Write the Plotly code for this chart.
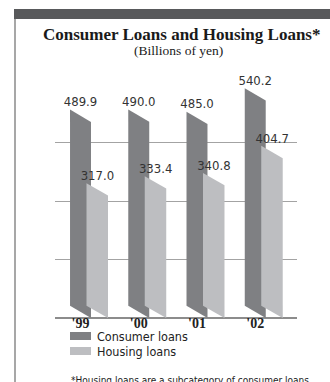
import plotly.graph_objects as go

years = ["'99", "'00", "'01", "'02"]
consumer_loans = [489.9, 490.0, 485.0, 540.2]
housing_loans = [317.0, 333.4, 340.8, 404.7]

DARK = "#7f8083"
LIGHT = "#bdbec1"
SLANT = 29  # vertical drop of the bevelled top/bottom edges, in axis units
NARROW = "DejaVu Sans Condensed, DejaVu Sans, sans-serif"
SERIF = "Liberation Serif, Times New Roman, serif"


def narrow(size, color="#222222"):
    return dict(family=NARROW, size=size, color=color)


fig = go.Figure()


def slab(x0, x1, v, color):
    # parallelogram bar: top-left corner sits at the value
    return go.Scatter(
        x=[x0, x1, x1, x0, x0],
        y=[v, v - SLANT, 0, SLANT, v],
        mode="lines", fill="toself", fillcolor=color,
        line=dict(width=0), hoverinfo="skip", showlegend=False,
    )


for i, (c, h) in enumerate(zip(consumer_loans, housing_loans)):
    fig.add_trace(slab(i - 0.18, i + 0.18, c, DARK))
    fig.add_trace(slab(i + 0.103, i + 0.472, h, LIGHT))

xs = list(range(len(years)))
fig.add_trace(go.Scatter(
    x=xs, y=consumer_loans, mode="text",
    text=[f"{v:.1f}" for v in consumer_loans], textposition="top center",
    textfont=narrow(13, "#333333"),
    cliponaxis=False, hoverinfo="skip", showlegend=False,
))
fig.add_trace(go.Scatter(
    x=[i + 0.29 for i in xs], y=housing_loans, mode="text",
    text=[f"{v:.1f}" for v in housing_loans], textposition="top center",
    textfont=narrow(13, "#333333"),
    cliponaxis=False, hoverinfo="skip", showlegend=False,
))

fig.update_xaxes(
    range=[-0.438, 3.717], tickmode="array", tickvals=xs, ticktext=years,
    showgrid=False, zeroline=False, showline=False, ticks="",
    ticklabelstandoff=-5,
    tickfont=dict(family=SERIF, size=14, color="#222222", weight="bold"),
)
fig.update_yaxes(
    range=[0, 550], tickmode="linear", tick0=0, dtick=137.5,
    showticklabels=False, showgrid=True, gridcolor="#a3a3a3", gridwidth=1,
    zeroline=True, zerolinecolor="#8c8c8c", zerolinewidth=1.5, showline=False,
)

fig.update_layout(
    width=330, height=382,
    margin=dict(l=55, r=33, t=84, b=64),
    paper_bgcolor="white", plot_bgcolor="white",
    showlegend=False,
)

# decorations in pixel-based paper coordinates
W = 330 - 55 - 33
H = 382 - 84 - 64


def px(x):
    return (x - 55) / W


def py(y):
    return (382 - 64 - y) / H


shapes = [
    dict(type="rect", xref="paper", yref="paper", x0=px(14), x1=px(331), y0=py(19), y1=py(9),
         fillcolor="#58595b", line=dict(width=0)),
    dict(type="line", xref="paper", yref="paper", x0=px(15), x1=px(15), y0=py(19), y1=py(383),
         line=dict(color="#8a8a8a", width=1.5)),
    dict(type="rect", xref="paper", yref="paper", x0=px(70), x1=px(91), y0=py(340), y1=py(332),
         fillcolor=DARK, line=dict(width=0)),
    dict(type="rect", xref="paper", yref="paper", x0=px(70), x1=px(91), y0=py(355), y1=py(347),
         fillcolor=LIGHT, line=dict(width=0)),
]
fig.update_layout(shapes=shapes)

annotations = [
    dict(text="<b>Consumer Loans and Housing Loans*</b>", x=px(181), y=py(34),
         font=dict(family=SERIF, size=17, color="#1a1a1a")),
    dict(text="(Billions of yen)", x=px(178), y=py(50.5),
         font=dict(family=SERIF, size=13.5, color="#1a1a1a")),
    dict(text="Consumer loans", x=px(95), y=py(336.5), xanchor="left", font=narrow(12.5)),
    dict(text="Housing loans", x=px(95), y=py(351), xanchor="left", font=narrow(12.5)),
    dict(text="*Housing loans are a subcategory of consumer loans", x=px(69), y=py(380),
         xanchor="left", font=narrow(10)),
]
for a in annotations:
    a.setdefault("xanchor", "center")
    a.update(xref="paper", yref="paper", yanchor="middle", showarrow=False)
fig.update_layout(annotations=annotations)

fig.write_html("out.html")
